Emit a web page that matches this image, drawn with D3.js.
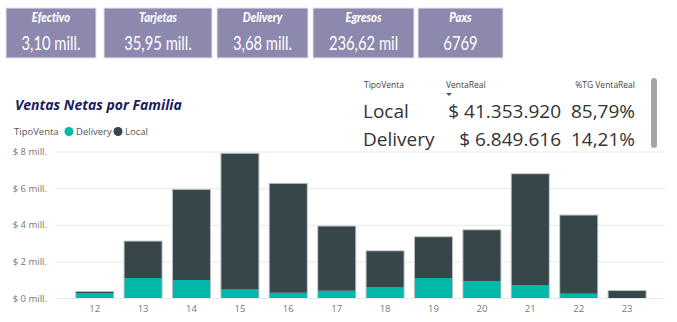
<!DOCTYPE html>
<html><head><meta charset="utf-8">
<script src="https://cdn.jsdelivr.net/npm/d3@7"></script>
<style>
html,body{margin:0;padding:0;background:#fff;}
svg{display:block;}
</style></head>
<body>
<svg id="c" width="677" height="322"></svg>
<script>
// ---- data ----
const cardTitles = ["Efectivo", "Tarjetas", "Delivery", "Egresos", "Paxs"];
const cardValues = ["3,10 mill.", "35,95 mill.", "3,68 mill.", "236,62 mil", "6769"];

const categories = ["12","13","14","15","16","17","18","19","20","21","22","23"];
const seriesNames = ["Delivery","Local"];
const delivery = [0.27,1.09,0.98,0.47,0.29,0.40,0.60,1.09,0.93,0.71,0.24,0.00];
const local    = [0.06,1.99,4.92,7.40,5.94,3.50,1.95,2.23,2.77,6.05,4.26,0.38];
const yTicks = [0,2,4,6,8];

const tableHeaders = ["TipoVenta","VentaReal","%TG VentaReal"];
const tableTipo = ["Local","Delivery"];
const tableVenta = ["$ 41.353.920","$ 6.849.616"];
const tablePct = ["85,79%","14,21%"];

const colors = {Delivery:"#01B8AA", Local:"#374649"};

const svg = d3.select("#c");

// ---- cards ----
const cardX = d3.scaleOrdinal().domain(cardTitles).range([6,104,217,313,418]);
const cardW = d3.scaleOrdinal().domain(cardTitles).range([90,108,91,101,85]);
const cards = svg.selectAll("g.card").data(cardTitles).join("g")
  .attr("transform", d => `translate(${cardX(d)},8)`);
cards.append("rect").attr("width", d=>cardW(d)).attr("height",50)
  .attr("fill","#8D89AE").attr("stroke","#e6e4ee").attr("stroke-width",1);
cards.append("g").attr("transform", d=>`translate(${cardW(d)/2},14) scale(0.9,1)`)
  .append("text").attr("text-anchor","middle").attr("fill","#fff")
  .style("font-family","Lato, 'Open Sans', sans-serif").style("font-weight","900")
  .style("font-style","italic").style("font-size","12.5px").text(d=>d);
cards.append("g").attr("transform", d=>`translate(${cardW(d)/2},41.5) scale(0.74,1)`)
  .append("text").attr("text-anchor","middle").attr("fill","#fff")
  .style("font-family","Lato, 'Open Sans', sans-serif").style("font-size","20px")
  .text((d,i)=>cardValues[i]);

// ---- title & legend ----
svg.append("text").attr("x",15).attr("y",110)
  .style("font-family","'Open Sans', 'Noto Sans', sans-serif").style("font-weight","700")
  .style("font-style","italic").style("font-size","14px").attr("fill","#1b1b5e")
  .text("Ventas Netas por Familia");
svg.append("text").attr("x",14).attr("y",135)
  .style("font-family","'Open Sans', sans-serif").style("font-size","9.5px").attr("fill","#555")
  .text("TipoVenta");
const legX = d3.scaleOrdinal().domain(seriesNames).range([69,118]);
const leg = svg.selectAll("g.leg").data(seriesNames).join("g")
  .attr("transform", d=>`translate(${legX(d)},131.5)`);
leg.append("circle").attr("r",4.5).attr("fill",d=>colors[d]);
leg.append("text").attr("x",7).attr("y",3.5)
  .style("font-family","'Open Sans', sans-serif").style("font-size","9.5px").attr("fill","#555")
  .text(d=>d);

// ---- chart ----
const y = d3.scaleLinear().domain([0,8]).range([298,151.5]);
const x = d3.scaleBand().domain(categories).range([56,665.8]).paddingInner(0.215).paddingOuter(0.407);

svg.append("g").selectAll("line").data(yTicks).join("line")
  .attr("x1",56).attr("x2",665).attr("y1",d=>y(d)+0.5).attr("y2",d=>y(d)+0.5)
  .attr("stroke","#e8e8e8").attr("stroke-width",1);
svg.append("g").selectAll("text").data(yTicks).join("text")
  .attr("x",47).attr("y",d=>y(d)+3.5).attr("text-anchor","end")
  .style("font-family","'Open Sans', sans-serif").style("font-size","9.5px").attr("fill","#777")
  .text(d=>`$ ${d} mill.`);

const rows = categories.map((c,i)=>({cat:c, Delivery:delivery[i], Local:local[i]}));
const stack = d3.stack().keys(seriesNames)(rows);
// outline of total bar
svg.append("g").selectAll("rect").data(rows).join("rect")
  .attr("x",d=>x(d.cat)-0.5).attr("width",x.bandwidth()+1)
  .attr("y",d=>y(d.Delivery+d.Local)-1).attr("height",d=>y(0)-y(d.Delivery+d.Local)+1)
  .attr("fill","#b9bfc0");
svg.append("g").selectAll("g").data(stack).join("g")
  .attr("fill",d=>colors[d.key])
  .selectAll("rect").data(d=>d).join("rect")
  .attr("x",d=>x(d.data.cat)+0.5).attr("width",x.bandwidth()-1)
  .attr("y",d=>y(d[1])).attr("height",d=>Math.max(0,y(d[0])-y(d[1])));

const xAxis = d3.axisBottom(x).tickSize(0).tickPadding(6);
const gx = svg.append("g").attr("transform","translate(0,299)").call(xAxis);
gx.select(".domain").remove();
gx.selectAll("text").style("font-family","'Open Sans', sans-serif").style("font-size","9.5px").attr("fill","#777");

// ---- table ----
const hdrX = [364,446,635];
const hdrAnchor = ["start","start","end"];
svg.append("g").selectAll("text").data(tableHeaders).join("text")
  .attr("x",(d,i)=>hdrX[i]).attr("y",88).attr("text-anchor",(d,i)=>hdrAnchor[i])
  .style("font-family","'Open Sans', sans-serif").style("font-size","8.5px").attr("fill","#444")
  .text(d=>d);
svg.append("path").attr("d","M446,93 L452,93 L449,96 Z").attr("fill","#555");
const rowY = d3.scaleBand().domain(tableTipo).range([100,156]);
const tr = svg.selectAll("g.tr").data(tableTipo).join("g")
  .attr("transform",d=>`translate(0,${rowY(d)+18})`)
  .style("font-family","'Open Sans', sans-serif").style("font-size","19px").attr("fill","#333");
tr.append("text").attr("x",363).text(d=>d);
tr.append("text").attr("x",561).attr("text-anchor","end").text((d,i)=>tableVenta[i]);
tr.append("text").attr("x",635).attr("text-anchor","end").text((d,i)=>tablePct[i]);
svg.append("rect").attr("x",651).attr("y",78).attr("width",6).attr("height",70).attr("rx",3)
  .attr("fill","#a6a6a6");
</script>
</body></html>
